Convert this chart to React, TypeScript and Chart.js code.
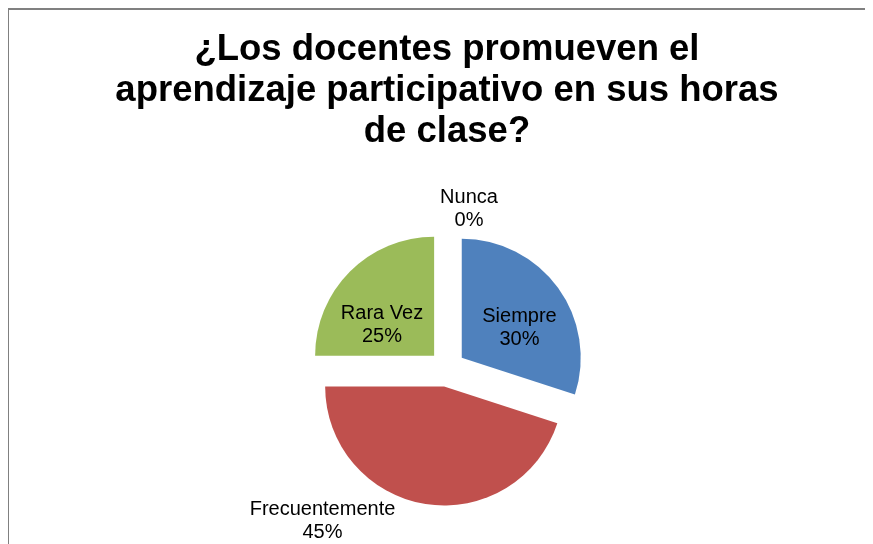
import React, { useEffect, useRef } from 'react';
import { Chart, registerables, ArcElement, PieController } from 'chart.js';

const TITLE_LINES = ['¿Los docentes promueven el', 'aprendizaje participativo en sus horas', 'de clase?'];
const CATEGORIES = ['Siempre', 'Frecuentemente', 'Rara Vez', 'Nunca'];
const VALUES = [30, 45, 25, 0];
const COLORS = ['#4F81BD', '#C0504D', '#9BBB59', '#8064A2'];

// layout constants (not data)
const PIE_RADIUS = 119;
const EXPLODE_PX = 18.2; // every slice pulled out by the same distance, as in Excel
const LABEL_OFFSETS: [number, number][] = [
  [72.5, -40.5],
  [-124.5, 152],
  [-65, -44],
  [22, -160],
];
const FONT_FAMILY = "'Liberation Sans', Arial, Helvetica, sans-serif";

class ExplodedArc extends ArcElement {
  static id = 'explodedArc';
  draw(ctx: CanvasRenderingContext2D) {
    const self = this as any;
    const mid = (self.startAngle + self.endAngle) / 2;
    ctx.save();
    ctx.translate(Math.cos(mid) * EXPLODE_PX, Math.sin(mid) * EXPLODE_PX);
    super.draw(ctx);
    ctx.restore();
  }
}

class ExplodedPieController extends PieController {
  static id = 'explodedPie';
  static defaults = { ...(PieController as any).defaults, dataElementType: 'explodedArc' };
}

Chart.register(...registerables, ExplodedArc as any, ExplodedPieController as any);

const sliceLabels = {
  id: 'sliceLabels',
  afterDatasetsDraw(chart: any) {
    const meta = chart.getDatasetMeta(0);
    const ctx = chart.ctx as CanvasRenderingContext2D;
    const total = VALUES.reduce((a, b) => a + b, 0);
    ctx.save();
    ctx.font = `20px ${FONT_FAMILY}`;
    ctx.fillStyle = '#000000';
    ctx.textAlign = 'center';
    ctx.textBaseline = 'middle';
    meta.data.forEach((arc: any, i: number) => {
      const { x, y } = arc.getProps(['x', 'y'], true);
      const [dx, dy] = LABEL_OFFSETS[i];
      const pct = Math.round((VALUES[i] / total) * 100) + '%';
      ctx.fillText(CATEGORIES[i], x + dx, y + dy - 11.5);
      ctx.fillText(pct, x + dx, y + dy + 11.5);
    });
    ctx.restore();
  },
};

export default function App() {
  const canvasRef = useRef<HTMLCanvasElement | null>(null);

  useEffect(() => {
    if (!canvasRef.current) return;
    Chart.defaults.font.family = FONT_FAMILY;
    const chart = new Chart(canvasRef.current, {
      type: 'explodedPie' as any,
      data: {
        labels: CATEGORIES,
        datasets: [
          {
            data: VALUES,
            backgroundColor: COLORS,
            borderWidth: 0,
          },
        ],
      },
      options: {
        animation: false,
        responsive: false,
        maintainAspectRatio: false,
        radius: PIE_RADIUS,
        layout: { padding: { top: 0, left: 0, right: 0, bottom: 15 } },
        plugins: {
          legend: { display: false },
          tooltip: { enabled: false },
          title: {
            display: true,
            text: TITLE_LINES,
            color: '#000000',
            font: { family: FONT_FAMILY, size: 36.5, weight: 'bold', lineHeight: 41 / 36.5 },
            padding: { top: 19, bottom: 10 },
          },
        },
      } as any,
      plugins: [sliceLabels],
    });
    return () => chart.destroy();
  }, []);

  return (
    <div style={{ width: 865, height: 536, overflow: 'hidden', position: 'relative' }}>
      <div
        style={{
          marginLeft: -1,
          width: 880,
          height: 600,
          border: '2px solid #808080',
          boxSizing: 'border-box',
          background: '#ffffff',
        }}
      >
        <canvas ref={canvasRef} width={876} height={580} style={{ display: 'block', width: 876, height: 580 }} />
      </div>
    </div>
  );
}
